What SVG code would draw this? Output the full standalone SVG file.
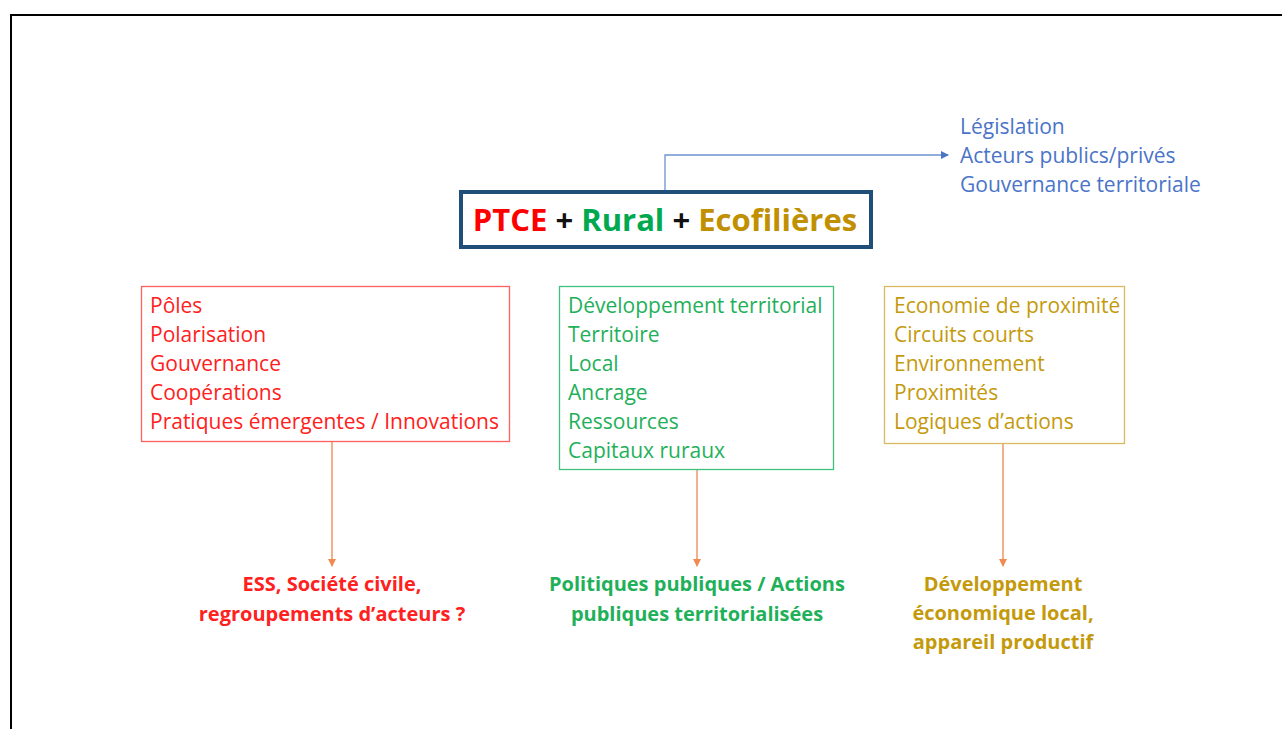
<svg xmlns="http://www.w3.org/2000/svg" width="1282" height="729" viewBox="0 0 1282 729">
<style>
text{font-family:"Open Sans","Liberation Sans",sans-serif;}
.t{font-size:21px;}
.b{font-size:20px;font-weight:bold;text-anchor:middle;}
.red{fill:#ff2020;}
.grn{fill:#1fb05a;}
.gold{fill:#c49a0c;}
.blu{fill:#4a74c8;}
</style>
<defs>
<marker id="ab" markerWidth="8" markerHeight="8" refX="7" refY="4" orient="auto" markerUnits="userSpaceOnUse"><path d="M0,0 L8,4 L0,8 Z" fill="#4a74c8"/></marker>
<marker id="ao2" markerWidth="8" markerHeight="8" refX="4" refY="7" orient="0" markerUnits="userSpaceOnUse"><path d="M0,0 L8,0 L4,8 Z" fill="#f08a50"/></marker>
</defs>
<rect width="1282" height="729" fill="#fff"/>
<path d="M11,729 V15 H1282" fill="none" stroke="#000" stroke-width="2"/>
<g id="connectors">
<path d="M665,191 V155 H948" fill="none" stroke="#6d92d0" stroke-width="1.3" marker-end="url(#ab)"/>
<path d="M332,442 V566" stroke="#f4b08a" stroke-width="2" fill="none" marker-end="url(#ao2)"/>
<path d="M697,470 V566" stroke="#f4b08a" stroke-width="2" fill="none" marker-end="url(#ao2)"/>
<path d="M1003,444 V566" stroke="#f4b08a" stroke-width="2" fill="none" marker-end="url(#ao2)"/>
</g>
<g id="main">
<rect x="461" y="192" width="410" height="55" fill="#fff" stroke="#1f4e79" stroke-width="4"/>
<text x="665" y="231" text-anchor="middle" style="font-size:31px;font-weight:bold"><tspan fill="#ff0000">PTCE</tspan><tspan fill="#111"> + </tspan><tspan fill="#00a84f">Rural</tspan><tspan fill="#111"> + </tspan><tspan fill="#c09000">Ecofilières</tspan></text>
</g>
<g id="blue-list">
<text x="960" y="134" class="t blu">Législation</text>
<text x="960" y="163" class="t blu">Acteurs publics/privés</text>
<text x="960" y="192" class="t blu">Gouvernance territoriale</text>
</g>
<g id="red-box">
<rect x="141.5" y="286.5" width="368" height="155" fill="#fff" stroke="#ff6060" stroke-width="1.3"/>
<text x="150" y="313" class="t red">Pôles</text>
<text x="150" y="342" class="t red">Polarisation</text>
<text x="150" y="371" class="t red">Gouvernance</text>
<text x="150" y="400" class="t red">Coopérations</text>
<text x="150" y="429" class="t red">Pratiques émergentes / Innovations</text>
</g>
<g id="green-box">
<rect x="559.5" y="286.5" width="274" height="183" fill="#fff" stroke="#40c07a" stroke-width="1.3"/>
<text x="568" y="313" class="t grn">Développement territorial</text>
<text x="568" y="342" class="t grn">Territoire</text>
<text x="568" y="371" class="t grn">Local</text>
<text x="568" y="400" class="t grn">Ancrage</text>
<text x="568" y="429" class="t grn">Ressources</text>
<text x="568" y="458" class="t grn">Capitaux ruraux</text>
</g>
<g id="gold-box">
<rect x="884.5" y="286.5" width="240" height="157" fill="#fff" stroke="#dcb860" stroke-width="1.3"/>
<text x="894" y="313" class="t gold">Economie de proximité</text>
<text x="894" y="342" class="t gold">Circuits courts</text>
<text x="894" y="371" class="t gold">Environnement</text>
<text x="894" y="400" class="t gold">Proximités</text>
<text x="894" y="429" class="t gold">Logiques d’actions</text>
</g>
<g id="red-result">
<text x="332" y="591" class="b red">ESS, Société civile,</text>
<text x="332" y="621" class="b red">regroupements d’acteurs ?</text>
</g>
<g id="green-result">
<text x="697" y="591" class="b grn">Politiques publiques / Actions</text>
<text x="697" y="621" class="b grn">publiques territorialisées</text>
</g>
<g id="gold-result">
<text x="1003" y="591" class="b gold">Développement</text>
<text x="1003" y="620" class="b gold">économique local,</text>
<text x="1003" y="649" class="b gold">appareil productif</text>
</g>
</svg>
